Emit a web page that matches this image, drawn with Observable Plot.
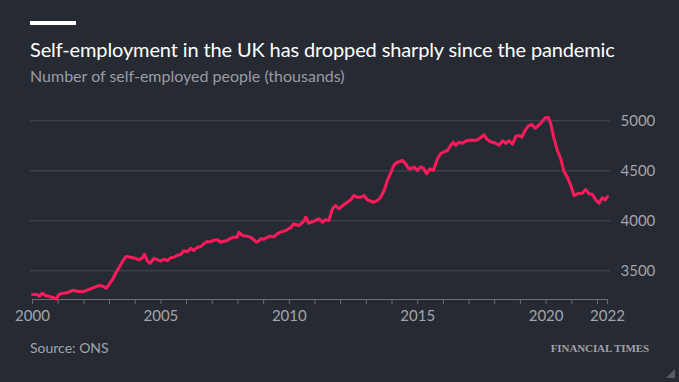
<!DOCTYPE html>
<html><head><meta charset="utf-8">
<script src="https://cdn.jsdelivr.net/npm/d3@7"></script>
<script src="https://cdn.jsdelivr.net/npm/@observablehq/plot@0.6"></script>
<style>
body{margin:0;background:#262a33;width:679px;height:382px;overflow:hidden;position:relative;font-family:Lato,"Open Sans",sans-serif}
#bar{position:absolute;left:30px;top:21px;width:46px;height:4px;background:#fff}
#title{position:absolute;left:30px;top:37px;color:#fff;font-size:20px;line-height:24px;white-space:nowrap;letter-spacing:-0.13px}
#subtitle{position:absolute;left:30px;top:66px;color:#9a9ca2;font-size:16px;line-height:19px;white-space:nowrap}
#chart{position:absolute;left:0;top:100px}
#source{position:absolute;left:30px;top:340px;color:#a3a5aa;font-size:14px;line-height:16px}
#ft{position:absolute;right:30px;top:342px;font-family:"Liberation Serif",serif;color:#a0a2a7;font-size:11px;line-height:13px;font-weight:bold;letter-spacing:-0.1px}
#corner{position:absolute;right:4px;bottom:4px;width:0;height:0;border-left:9px solid transparent;border-bottom:9px solid #555a63}
</style></head>
<body>
<div id="bar"></div>
<div id="title">Self-employment in the UK has dropped sharply since the pandemic</div>
<div id="subtitle">Number of self-employed people (thousands)</div>
<div id="chart"></div>
<div id="source">Source: ONS</div>
<div id="ft">FINANCIAL TIMES</div>
<div id="corner"></div>
<script>
const years = [2000.00,2000.18,2000.27,2000.38,2000.51,2000.66,2000.83,2000.92,2001.03,2001.18,2001.35,2001.48,2001.61,2001.74,2001.94,2002.09,2002.26,2002.43,2002.58,2002.74,2002.87,2003.00,2003.13,2003.26,2003.39,2003.52,2003.65,2003.82,2003.99,2004.14,2004.27,2004.36,2004.47,2004.58,2004.73,2004.87,2004.99,2005.12,2005.25,2005.38,2005.51,2005.64,2005.77,2005.89,2006.03,2006.16,2006.28,2006.42,2006.55,2006.67,2006.81,2006.93,2007.06,2007.20,2007.32,2007.45,2007.59,2007.71,2007.84,2007.97,2008.04,2008.17,2008.36,2008.49,2008.62,2008.73,2008.82,2008.88,2009.01,2009.14,2009.27,2009.40,2009.53,2009.66,2009.86,2010.05,2010.18,2010.37,2010.57,2010.64,2010.76,2010.96,2011.15,2011.29,2011.41,2011.54,2011.68,2011.80,2011.93,2012.13,2012.26,2012.39,2012.52,2012.65,2012.78,2012.91,2013.04,2013.17,2013.30,2013.43,2013.56,2013.69,2013.82,2013.95,2014.08,2014.21,2014.34,2014.41,2014.53,2014.66,2014.76,2014.86,2014.99,2015.12,2015.24,2015.35,2015.48,2015.61,2015.77,2015.89,2016.02,2016.16,2016.28,2016.39,2016.48,2016.61,2016.74,2016.87,2017.06,2017.26,2017.39,2017.58,2017.71,2017.84,2018.04,2018.17,2018.30,2018.43,2018.56,2018.69,2018.82,2018.94,2019.05,2019.18,2019.31,2019.44,2019.57,2019.70,2019.83,2019.96,2020.09,2020.18,2020.31,2020.44,2020.57,2020.70,2020.83,2020.96,2021.09,2021.22,2021.41,2021.54,2021.67,2021.80,2021.93,2022.06,2022.19,2022.30,2022.39];
const thousands = [3263,3262,3246,3276,3253,3243,3230,3216,3263,3276,3280,3296,3306,3296,3290,3303,3320,3336,3353,3346,3326,3370,3420,3486,3540,3600,3643,3636,3626,3610,3626,3665,3600,3575,3625,3610,3596,3615,3603,3630,3636,3655,3663,3700,3690,3726,3703,3736,3740,3770,3793,3790,3806,3810,3786,3795,3803,3826,3836,3835,3886,3853,3846,3835,3810,3786,3800,3820,3815,3836,3846,3840,3870,3886,3903,3930,3970,3953,3996,4036,3976,3996,4020,3986,4010,4003,4120,4153,4120,4163,4186,4210,4253,4236,4236,4253,4210,4196,4186,4203,4236,4303,4403,4480,4560,4586,4596,4603,4570,4520,4525,4536,4505,4540,4520,4470,4520,4505,4620,4670,4690,4703,4753,4786,4755,4786,4775,4798,4808,4803,4820,4860,4812,4790,4776,4755,4800,4776,4800,4766,4845,4853,4836,4903,4950,4963,4925,4953,4986,5030,5032,4970,4820,4703,4620,4490,4436,4353,4253,4270,4276,4313,4270,4263,4210,4176,4230,4210,4243];
const yTicks = [3500, 4000, 4500, 5000];
const xLabelYears = [2000, 2005, 2010, 2015, 2020];
const lastLabel = "2022";
const yDomain = [3213, 5103];

const data = years.map((x, i) => ({x, y: thousands[i]}));
const end = years[years.length - 1];
const tickYears = d3.range(2000, 2023).concat([end]);
const labelYears = xLabelYears.concat([end]);

const chart = Plot.plot({
  width: 679, height: 234,
  marginLeft: 32, marginRight: 72, marginTop: 10, marginBottom: 35,
  style: {background: "transparent", color: "#a3a5ab", fontFamily: "Lato, sans-serif", fontSize: "15px"},
  x: {domain: [years[0], end], label: null},
  y: {domain: yDomain, label: null},
  marks: [
    Plot.gridY(yTicks, {stroke: "#464a53", strokeOpacity: 1, insetLeft: -2, insetRight: -3}),
    Plot.ruleY([yDomain[0]], {stroke: "#6a6d75", strokeWidth: 1}),
    Plot.axisX(tickYears, {tickSize: 5, stroke: "#6a6d75", tickFormat: () => "", label: null}),
    Plot.axisX(labelYears, {tickSize: 0, tickPadding: 11, fill: "#a3a5ab", tickFormat: d => d === end ? lastLabel : String(d), label: null}),
    Plot.axisY(yTicks, {anchor: "right", tickSize: 0, tickPadding: 13, fill: "#a3a5ab", tickFormat: d3.format("d"), label: null}),
    Plot.line(data, {x: "x", y: "y", stroke: "#ff1a5c", strokeWidth: 3, strokeLinejoin: "round", strokeLinecap: "round"})
  ]
});
document.getElementById("chart").appendChild(chart);
</script>
</body></html>
